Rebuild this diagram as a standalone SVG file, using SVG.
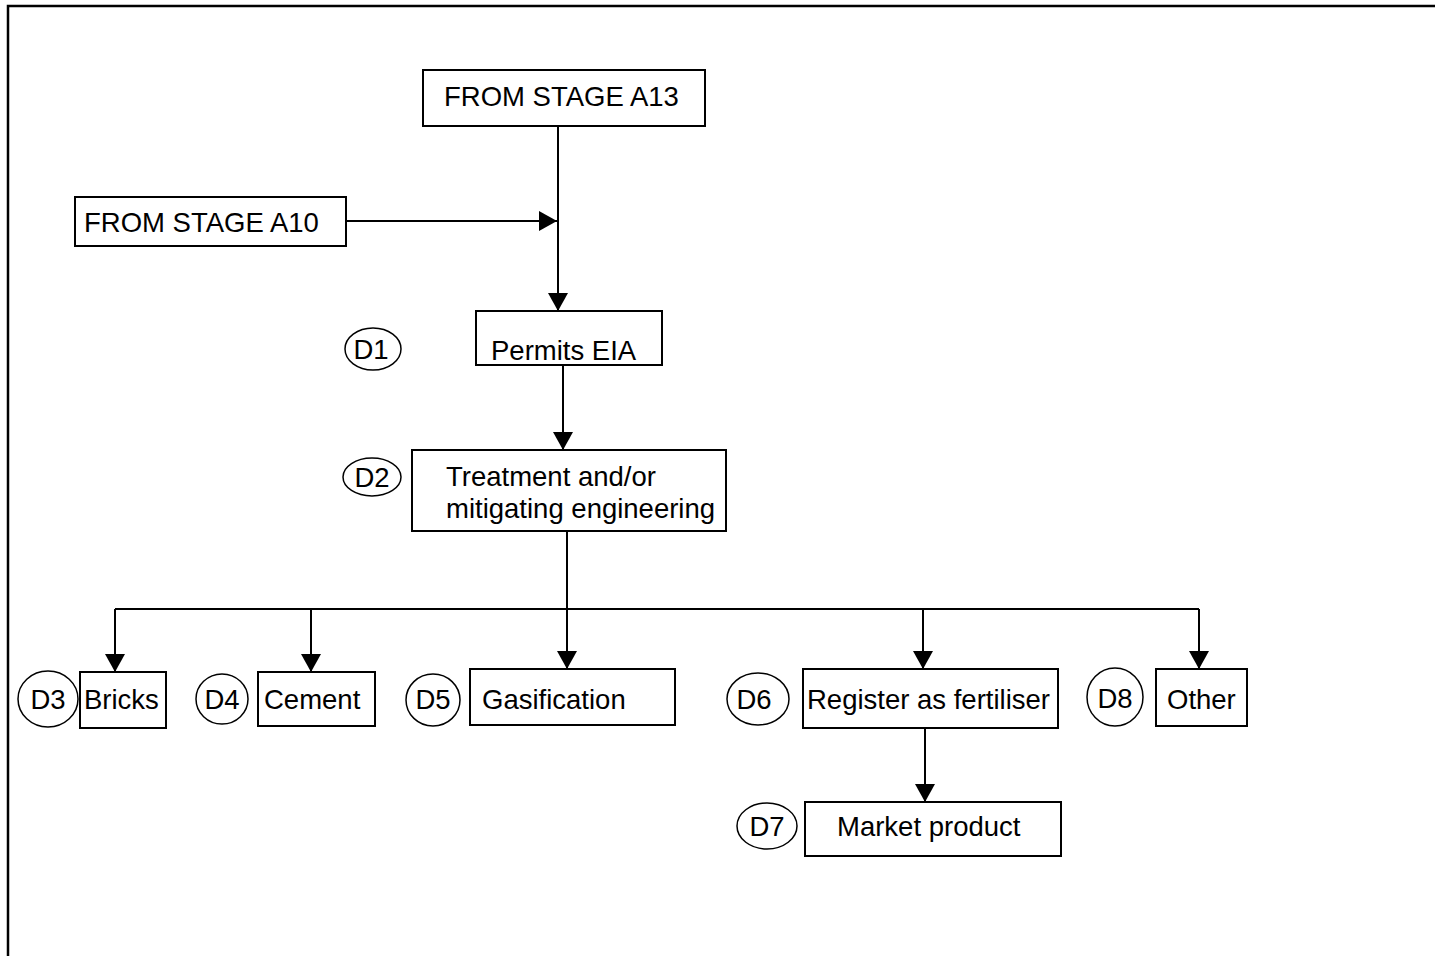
<svg xmlns="http://www.w3.org/2000/svg" width="1435" height="956" viewBox="0 0 1435 956">
<style>
.box{fill:#fff;stroke:#000;stroke-width:2}
.lbl{fill:#fff;stroke:#000;stroke-width:1.5}
.t{font-family:"Liberation Sans",Arial,sans-serif;font-size:27.5px;fill:#000}
.c{stroke:#000;stroke-width:2;fill:none}
</style>
<defs>
<marker id="ah" viewBox="0 0 18 20" refX="18" refY="10" markerWidth="18" markerHeight="20" markerUnits="userSpaceOnUse" orient="auto">
<path d="M0,0 L18,10 L0,20 Z" fill="#000"/>
</marker>
</defs>
<rect width="1435" height="956" fill="#fff"/>
<g id="frame">
<path d="M8,956 V6 H1435" stroke="#000" stroke-width="2.5" fill="none"/>
</g>
<g id="connectors">
<path class="c" d="M558,126 V311" marker-end="url(#ah)"/>
<path class="c" d="M347,221 H557" marker-end="url(#ah)"/>
<path class="c" d="M563,365 V450" marker-end="url(#ah)"/>
<path class="c" d="M567,531 V669" marker-end="url(#ah)"/>
<path class="c" d="M115,609 H1199"/>
<path class="c" d="M115,609 V672" marker-end="url(#ah)"/>
<path class="c" d="M311,609 V672" marker-end="url(#ah)"/>
<path class="c" d="M923,609 V669" marker-end="url(#ah)"/>
<path class="c" d="M1199,609 V669" marker-end="url(#ah)"/>
<path class="c" d="M925,728 V802" marker-end="url(#ah)"/>
</g>
<g id="a13"><rect class="box" x="423" y="70" width="282" height="56"/><text class="t" x="444" y="106">FROM STAGE A13</text></g>
<g id="a10"><rect class="box" x="75" y="197" width="271" height="49"/><text class="t" x="84" y="232">FROM STAGE A10</text></g>
<g id="d1"><ellipse class="lbl" cx="373" cy="349" rx="28" ry="21"/><text class="t" x="371" y="359" text-anchor="middle">D1</text></g>
<g id="permits"><rect class="box" x="476" y="311" width="186" height="54"/><text class="t" x="491" y="360">Permits EIA</text></g>
<g id="d2"><ellipse class="lbl" cx="372" cy="477" rx="29" ry="19"/><text class="t" x="372" y="487" text-anchor="middle">D2</text></g>
<g id="treatment"><rect class="box" x="412" y="450" width="314" height="81"/><text class="t" x="446" y="486">Treatment and/or</text><text class="t" x="446" y="518">mitigating engineering</text></g>
<g id="d3"><ellipse class="lbl" cx="48" cy="699" rx="30" ry="28"/><text class="t" x="48" y="709" text-anchor="middle">D3</text></g>
<g id="bricks"><rect class="box" x="80" y="672" width="86" height="56"/><text class="t" x="84" y="709">Bricks</text></g>
<g id="d4"><ellipse class="lbl" cx="222" cy="699" rx="26" ry="25"/><text class="t" x="222" y="709" text-anchor="middle">D4</text></g>
<g id="cement"><rect class="box" x="258" y="672" width="117" height="54"/><text class="t" x="264" y="709">Cement</text></g>
<g id="d5"><ellipse class="lbl" cx="433" cy="700" rx="27" ry="26"/><text class="t" x="433" y="709" text-anchor="middle">D5</text></g>
<g id="gasification"><rect class="box" x="470" y="669" width="205" height="56"/><text class="t" x="482" y="709">Gasification</text></g>
<g id="d6"><ellipse class="lbl" cx="758" cy="699" rx="31" ry="26"/><text class="t" x="754" y="709" text-anchor="middle">D6</text></g>
<g id="register"><rect class="box" x="803" y="669" width="255" height="59"/><text class="t" x="807" y="709">Register as fertiliser</text></g>
<g id="d8"><ellipse class="lbl" cx="1115" cy="697" rx="28" ry="29"/><text class="t" x="1115" y="708" text-anchor="middle">D8</text></g>
<g id="other"><rect class="box" x="1156" y="669" width="91" height="57"/><text class="t" x="1167" y="709">Other</text></g>
<g id="d7"><ellipse class="lbl" cx="767" cy="826" rx="30" ry="23"/><text class="t" x="767" y="836" text-anchor="middle">D7</text></g>
<g id="market"><rect class="box" x="805" y="802" width="256" height="54"/><text class="t" x="837" y="836">Market product</text></g>
</svg>
